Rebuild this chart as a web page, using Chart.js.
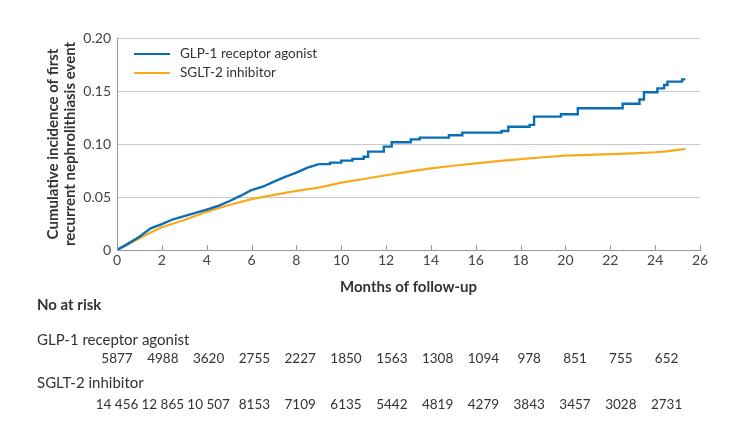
<!DOCTYPE html>
<html>
<head>
<meta charset="utf-8">
<script src="https://cdn.jsdelivr.net/npm/chart.js@4.4.1/dist/chart.umd.min.js"></script>
<style>
  html, body { margin: 0; background: #fff; }
</style>
</head>
<body>
<canvas id="kmChart" width="730" height="423"></canvas>
<script>
// months of follow-up and cumulative incidence
// GLP-1: early part drawn as a polyline (steps too fine to see), later part as a step curve
const glpEarlyMonths = [0, 0.5, 1, 1.5, 2, 2.5, 3, 3.5, 4, 4.5, 5, 5.5, 6, 6.5, 7, 7.5, 8, 8.5, 9];
const glpEarlyRisk = [0, 0.006, 0.0126, 0.0204, 0.0245, 0.029, 0.032, 0.035, 0.038, 0.0415, 0.046, 0.051, 0.0566, 0.0597, 0.0645, 0.069, 0.073, 0.0777, 0.081];
const glpLateMonths = [9, 9.5, 10, 10.5, 11, 11.2, 11.9, 12.25, 13.1, 13.5, 14.8, 15.4, 17.15, 17.45, 18.4, 18.6, 19.8, 20.55, 22.55, 23.3, 23.5, 24.1, 24.4, 24.55, 25.2, 25.35];
const glpLateRisk = [0.081, 0.0824, 0.0843, 0.086, 0.088, 0.0928, 0.0975, 0.1016, 0.1044, 0.106, 0.1082, 0.1107, 0.1123, 0.1163, 0.118, 0.1258, 0.128, 0.1337, 0.138, 0.142, 0.1488, 0.1525, 0.1557, 0.1588, 0.161, 0.161];

const sgltMonths = [0, 0.5, 1, 1.5, 2, 3, 4, 5, 6, 7, 8, 9, 10, 11, 12, 13, 14, 15, 16, 17, 18, 19, 20, 21, 22, 23, 24, 24.5, 25, 25.35];
const sgltRisk = [0, 0.0055, 0.011, 0.0165, 0.0214, 0.0283, 0.036, 0.0425, 0.048, 0.052, 0.0557, 0.0588, 0.0635, 0.067, 0.0705, 0.074, 0.077, 0.0795, 0.0818, 0.0838, 0.0858, 0.0875, 0.089, 0.0898, 0.0905, 0.0912, 0.0922, 0.093, 0.0945, 0.0953];

const seriesNames = ["GLP-1 receptor agonist", "SGLT-2 inhibitor"];
const seriesColors = ["#0b6db5", "#f6aa1c"];

// numbers at risk, every 2 months from 0 to 24
const riskMonths = [0, 2, 4, 6, 8, 10, 12, 14, 16, 18, 20, 22, 24];
const glpAtRisk = ["5877", "4988", "3620", "2755", "2227", "1850", "1563", "1308", "1094", "978", "851", "755", "652"];
const sgltAtRisk = ["14 456", "12 865", "10 507", "8153", "7109", "6135", "5442", "4819", "4279", "3843", "3457", "3028", "2731"];

const FONT = "Lato, 'Open Sans', sans-serif";
const TEXT = "#333333";

const toPoints = (xs, ys) => xs.map((x, i) => ({ x: x, y: ys[i] }));

const extras = {
    id: "extras",
    afterDraw(chart) {
        const ctx = chart.ctx;
        const xs = chart.scales.x;
        const area = chart.chartArea;
        ctx.save();

        // small tick marks pointing up from the x axis
        ctx.strokeStyle = "#9a9a9a";
        ctx.lineWidth = 1;
        xs.ticks.forEach(t => {
            const px = Math.round(xs.getPixelForValue(t.value)) + 0.5;
            ctx.beginPath();
            ctx.moveTo(px, area.bottom);
            ctx.lineTo(px, area.bottom - 5);
            ctx.stroke();
        });

        // legend inside the plot
        ctx.font = "13.5px " + FONT;
        ctx.textBaseline = "middle";
        ctx.textAlign = "left";
        seriesNames.forEach((name, i) => {
            const y = area.top + 16 + i * 19;
            ctx.strokeStyle = seriesColors[i];
            ctx.lineWidth = 2;
            ctx.beginPath();
            ctx.moveTo(area.left + 17, y);
            ctx.lineTo(area.left + 53, y);
            ctx.stroke();
            ctx.fillStyle = TEXT;
            ctx.fillText(name, area.left + 63, y);
        });

        // numbers at risk table
        ctx.fillStyle = TEXT;
        ctx.font = "bold 15px " + FONT;
        ctx.fillText("No at risk", 37, 305);
        ctx.font = "15px " + FONT;
        ctx.fillText(seriesNames[0], 37, 340);
        ctx.fillText(seriesNames[1], 37, 383);
        ctx.font = "13.5px " + FONT;
        ctx.textAlign = "center";
        const x0 = xs.getPixelForValue(riskMonths[0]);
        riskMonths.forEach((m, i) => {
            const px = x0 + i * 45.8;
            ctx.fillText(glpAtRisk[i], px, 359);
            ctx.fillText(sgltAtRisk[i], px, 405);
        });
        ctx.restore();
    }
};

new Chart(document.getElementById("kmChart"), {
    type: "line",
    data: {
        datasets: [
            {
                label: seriesNames[0],
                data: toPoints(glpEarlyMonths, glpEarlyRisk),
                borderColor: seriesColors[0],
                borderWidth: 2.4,
                pointRadius: 0,
                tension: 0,
                fill: false
            },
            {
                label: seriesNames[0],
                data: toPoints(glpLateMonths, glpLateRisk),
                borderColor: seriesColors[0],
                borderWidth: 2.4,
                stepped: "before",
                pointRadius: 0,
                fill: false
            },
            {
                label: seriesNames[1],
                data: toPoints(sgltMonths, sgltRisk),
                borderColor: seriesColors[1],
                borderWidth: 2.2,
                pointRadius: 0,
                tension: 0,
                fill: false
            }
        ]
    },
    plugins: [extras],
    options: {
        responsive: false,
        animation: false,
        devicePixelRatio: 1,
        layout: { padding: { left: 45, right: 30, top: 38, bottom: 123 } },
        plugins: {
            legend: { display: false },
            tooltip: { enabled: false }
        },
        scales: {
            x: {
                type: "linear",
                min: 0,
                max: 26,
                afterFit: s => { s.height = 50; },
                ticks: {
                    stepSize: 2,
                    padding: 2,
                    color: "#444",
                    font: { family: FONT, size: 14 }
                },
                grid: { display: false, drawTicks: false },
                border: { display: true, color: "#9a9a9a", width: 1 },
                title: {
                    display: true,
                    text: "Months of follow-up",
                    color: TEXT,
                    font: { family: FONT, size: 15, weight: "bold" },
                    padding: { top: 0, bottom: 4 }
                }
            },
            y: {
                min: 0,
                max: 0.2,
                afterFit: s => { s.width = 72; },
                ticks: {
                    stepSize: 0.05,
                    padding: 6,
                    color: "#444",
                    font: { family: FONT, size: 14 },
                    callback: v => v === 0 ? "0" : v.toFixed(2)
                },
                grid: { color: "#c8c8c8", drawTicks: false },
                border: { display: true, color: "#9a9a9a", width: 1 },
                title: {
                    display: true,
                    text: ["Cumulative incidence of first", "recurrent nephrolithiasis event"],
                    color: TEXT,
                    font: { family: FONT, size: 15, weight: "bold", lineHeight: 1.1 },
                    padding: { top: 0, bottom: 0 }
                }
            }
        }
    }
});
</script>
</body>
</html>
